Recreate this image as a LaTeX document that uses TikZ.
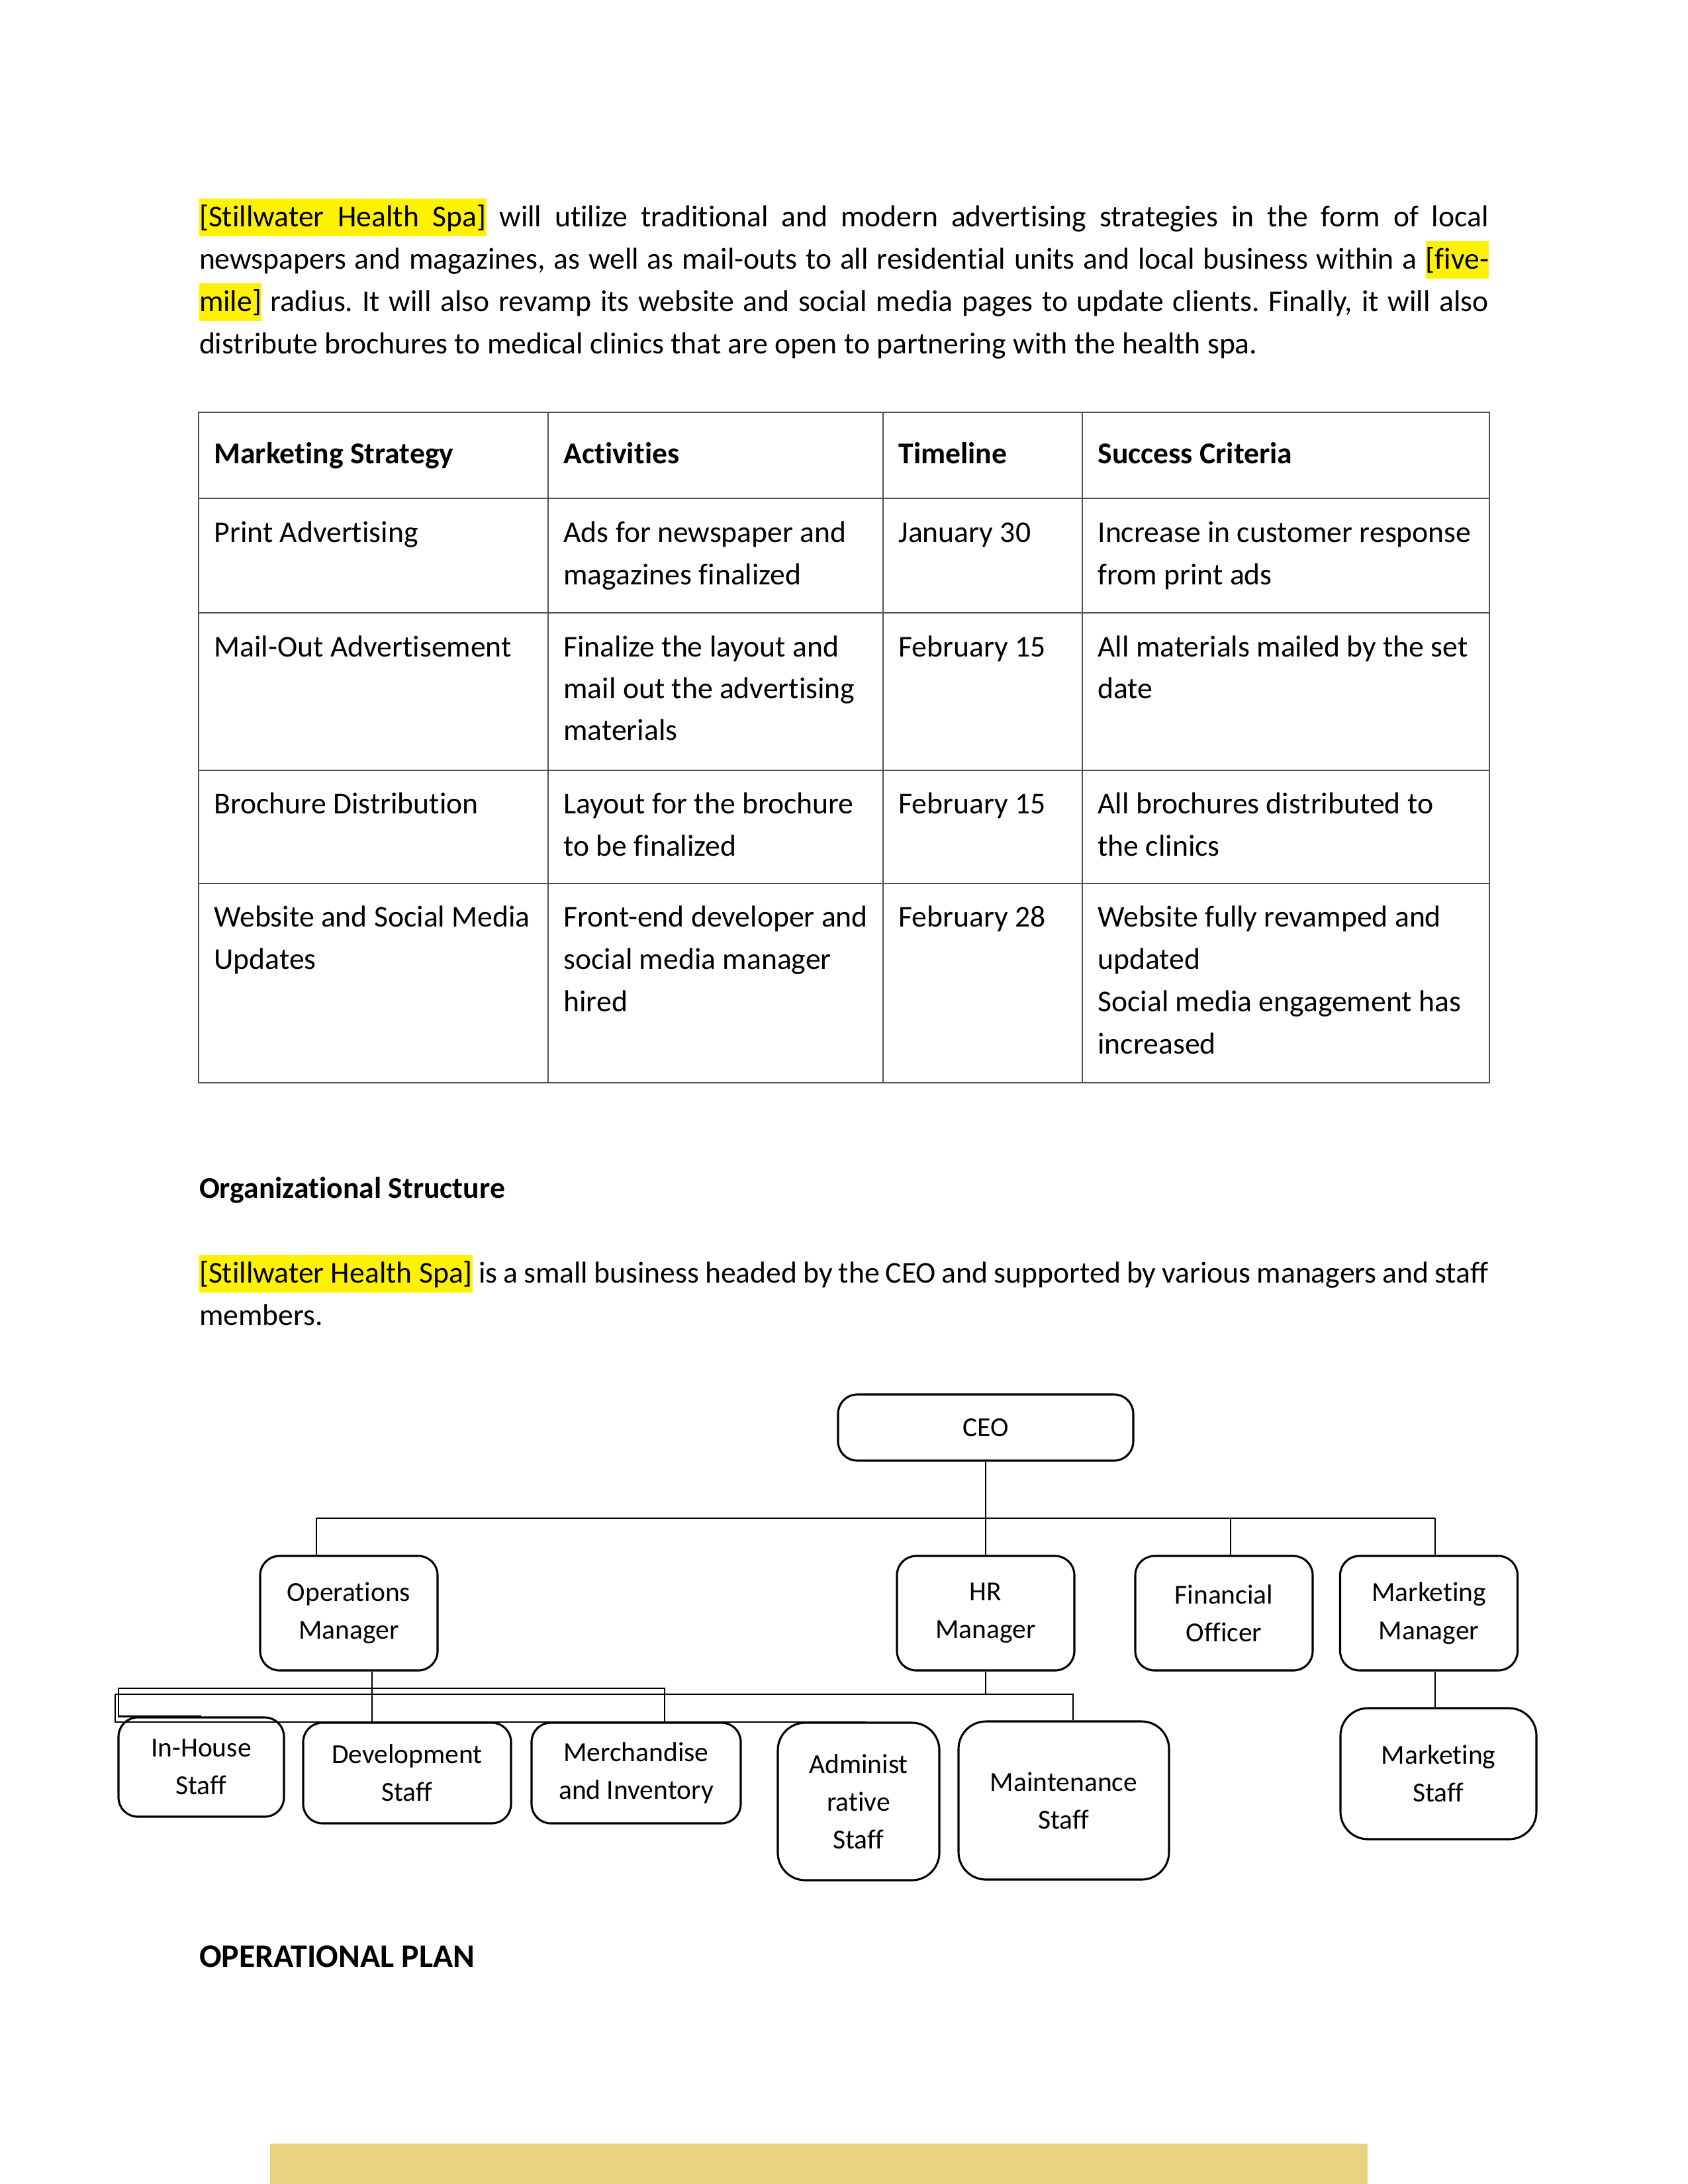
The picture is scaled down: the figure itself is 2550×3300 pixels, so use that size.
\documentclass[tikz,border=0pt]{standalone}
\usepackage{fontspec}
\setmainfont[Ligatures={NoCommon}]{Carlito}
\frenchspacing
\newlength\pxu
\setlength\pxu{0.24090pt}
\definecolor{bandcol}{RGB}{233,211,128}
\definecolor{tabline}{RGB}{80,80,80}
\newcommand\hlt[1]{{\setlength\fboxsep{0pt}\colorbox{yellow}{\rule[-3.5pt]{0pt}{13.6pt}#1}}}
\newcommand\jline[1]{\makebox[1948\pxu][s]{#1}}
\begin{document}
\begin{tikzpicture}[x=0.24090pt, y=-0.24090pt, font=\fontsize{11}{15.4}\selectfont,
  txt/.style={anchor=base west, inner sep=0pt, outer sep=0pt},
  tab/.style={draw=tabline, line width=0.6pt, line cap=rect},
  orgbox/.style={draw, line width=0.75pt, rounded corners=7pt, align=center, inner sep=0pt,
    font=\fontsize{10}{13.8}\selectfont},
  bigbox/.style={orgbox, rounded corners=10pt},
  conn/.style={draw, line width=0.55pt}]
\useasboundingbox (0,0) rectangle (2550,3300);

% ---- opening paragraph ----
\node[txt] (p1) at (301,342) {\jline{\hlt{[Stillwater\ \ Health\ \ Spa]} will utilize traditional and modern advertising strategies in the form of local}};
\node[txt] (p2) at (301,406) {\jline{newspapers and magazines, as well as mail-outs to all residential units and local business within a \hlt{[five-}}};
\node[txt] (p3) at (301,470) {\jline{\hlt{mile]} radius. It will also revamp its website and social media pages to update clients. Finally, it will also}};
\node[txt] (p4) at (301,534) {distribute brochures to medical clinics that are open to partnering with the health spa.};

% ---- table grid ----
\foreach \yy in {623,753,926,1164,1335,1636} \draw[tab] (300,\yy) -- (2250,\yy);
\foreach \xx in {300,828,1334,1635,2250} \draw[tab] (\xx,623) -- (\xx,1636);

% header
\node[txt] (h1) at (323.5,700) {\textbf{Marketing Strategy}};
\node[txt] (h2) at (851.5,700) {\textbf{Activities}};
\node[txt] (h3) at (1357.5,700) {\textbf{Timeline}};
\node[txt] (h4) at (1658.5,700) {\textbf{Success Criteria}};
% row 1
\node[txt] (r1a) at (323.5,819) {Print Advertising};
\node[txt] (r1b) at (851.5,819) {Ads for newspaper and};
\node[txt] (r1b2) at (851.5,883) {magazines finalized};
\node[txt] (r1c) at (1357.5,819) {January 30};
\node[txt] (r1d) at (1658.5,819) {Increase in customer response};
\node[txt] (r1d2) at (1658.5,883) {from print ads};
% row 2
\node[txt] (r2a) at (323.5,992) {Mail-Out Advertisement};
\node[txt] (r2b) at (851.5,992) {Finalize the layout and};
\node[txt] (r2b2) at (851.5,1055) {mail out the advertising};
\node[txt] (r2b3) at (851.5,1118) {materials};
\node[txt] (r2c) at (1357.5,992) {February 15};
\node[txt] (r2d) at (1658.5,992) {All materials mailed by the set};
\node[txt] (r2d2) at (1658.5,1055) {date};
% row 3
\node[txt] (r3a) at (323.5,1229) {Brochure Distribution};
\node[txt] (r3b) at (851.5,1229) {Layout for the brochure};
\node[txt] (r3b2) at (851.5,1293) {to be finalized};
\node[txt] (r3c) at (1357.5,1229) {February 15};
\node[txt] (r3d) at (1658.5,1229) {All brochures distributed to};
\node[txt] (r3d2) at (1658.5,1293) {the clinics};
% row 4
\node[txt] (r4a) at (323.5,1400) {Website and Social Media};
\node[txt] (r4a2) at (323.5,1464) {Updates};
\node[txt] (r4b) at (851.5,1400) {Front-end developer and};
\node[txt] (r4b2) at (851.5,1464) {social media manager};
\node[txt] (r4b3) at (851.5,1528) {hired};
\node[txt] (r4c) at (1357.5,1400) {February 28};
\node[txt] (r4d) at (1658.5,1400) {Website fully revamped and};
\node[txt] (r4d2) at (1658.5,1464) {updated};
\node[txt] (r4d3) at (1658.5,1528) {Social media engagement has};
\node[txt] (r4d4) at (1658.5,1592) {increased};

% ---- organizational structure text ----
\node[txt] (os) at (301,1810) {\textbf{Organizational Structure}};
\node[txt] (q1) at (301,1938) {\jline{\hlt{[Stillwater Health Spa]} is a small business headed by the CEO and supported by various managers and staff}};
\node[txt] (q2) at (301,2002) {members.};

% ---- org chart ----
\node[orgbox, minimum width=446*\pxu, minimum height=100*\pxu] (ceo) at (1489,2157) {CEO};
\node[orgbox, minimum width=268*\pxu, minimum height=173*\pxu] (ops) at (527,2437.5) {Operations\\Manager};
\node[orgbox, minimum width=268*\pxu, minimum height=173*\pxu] (hr) at (1489,2437.5) {HR\\Manager};
\node[orgbox, minimum width=268*\pxu, minimum height=173*\pxu] (fin) at (1849,2437.5) {Financial\\Officer};
\node[orgbox, minimum width=268*\pxu, minimum height=173*\pxu] (mm) at (2158.5,2437.5) {Marketing\\Manager};
\node[bigbox, minimum width=296*\pxu, minimum height=198*\pxu] (ms) at (2173,2680) {Marketing\\Staff};
\node[orgbox, minimum width=250*\pxu, minimum height=150*\pxu] (inh) at (304,2670) {In-House\\Staff};
\node[orgbox, minimum width=314*\pxu, minimum height=152*\pxu] (dev) at (615,2679) {Development\\Staff};
\node[orgbox, minimum width=316*\pxu, minimum height=152*\pxu] (mer) at (961,2679) {Merchandise\\and Inventory};
\node[bigbox, minimum width=244*\pxu, minimum height=238*\pxu] (adm) at (1297,2722) {Administ\\rative\\Staff};
\node[bigbox, minimum width=318*\pxu, minimum height=239*\pxu] (mnt) at (1607,2720.5) {Maintenance\\Staff};

\coordinate (busL) at (478,2294);
\coordinate (busR) at (2168,2294);
\coordinate (finTap) at (1859,2294);
\coordinate (opsLeg) at (562,2602);
\coordinate (elbL) at (179,2551);
\coordinate (elbR) at (1004,2551);
\coordinate (hrL) at (174,2560);
\coordinate (hrR) at (1621,2560);
\coordinate (lowR) at (1308,2602);

\draw[conn] (ceo.south) -- (hr.north);
\draw[conn] (busL) -- (busR);
\draw[conn] (busL) -- (busL |- ops.north);
\draw[conn] (finTap) -- (finTap |- fin.north);
\draw[conn] (busR) -- (busR |- mm.north);
\draw[conn] (busR |- mm.south) -- (busR |- ms.north);
\draw[conn] (opsLeg |- ops.south) -- (opsLeg);
\draw[conn] (inh.north) -- (inh.north -| elbL) -- (elbL) -- (elbR) -- (elbR |- mer.north);
\draw[conn] (hr.south) -- (hr.south |- hrL);
\draw[conn] (hrL) -- (hrR) -- (hrR |- mnt.north);
\draw[conn] (hrL) -- (hrL |- lowR) -- (lowR);

% ---- heading and band ----
\node[txt, font=\fontsize{12}{15}\selectfont\bfseries] (op) at (301,2972) {OPERATIONAL PLAN};
\fill[bandcol] (408,3239) rectangle (2066,3300);
\end{tikzpicture}
\end{document}
